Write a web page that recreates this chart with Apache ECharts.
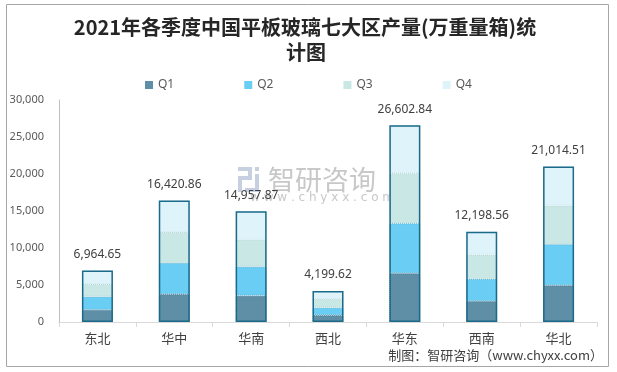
<!DOCTYPE html>
<html>
<head>
<meta charset="utf-8">
<script src="https://cdn.jsdelivr.net/npm/echarts@6/dist/echarts.min.js"></script>
<style>
html,body{margin:0;padding:0;background:#fff;}
#main{width:617px;height:372px;}
</style>
</head>
<body>
<div id="main"></div>
<script>
var categories = ['东北', '华中', '华南', '西北', '华东', '西南', '华北'];
var q1 = [1647, 3769, 3557, 925, 6587, 2824, 4963];
var q2 = [1781, 4213, 3922, 1009, 6762, 3002, 5545];
var q3 = [1700, 4172, 3652, 1202, 6762, 3275, 5233];
var q4 = [1836.65, 4266.86, 3826.87, 1063.62, 6491.84, 3097.56, 5273.51];
var totals = [6964.65, 16420.86, 14957.87, 4199.62, 26602.84, 12198.56, 21014.51];
var yTicks = [0, 5000, 10000, 15000, 20000, 25000, 30000];

var FONT = '"Noto Sans", "Noto Sans CJK SC", sans-serif';
function fmt(v, d) {
  var s = v.toFixed(d);
  var parts = s.split('.');
  parts[0] = parts[0].replace(/\B(?=(\d{3})+(?!\d))/g, ',');
  return parts.join('.');
}

var colors = ['#5E8FA6', '#6ACDF4', '#C9E7E5', '#DFF3FA'];
var seg = function (name, data, color, border) {
  return {
    name: name, type: 'bar', stack: 'total', data: data, barWidth: 31,
    itemStyle: { color: color, borderColor: border, borderWidth: 1, borderType: 'dotted' },
    emphasis: { disabled: true }, z: 2
  };
};

var chart = echarts.init(document.getElementById('main'), null, { renderer: 'canvas' });
chart.setOption({
  animation: false,
  backgroundColor: '#ffffff',
  textStyle: { fontFamily: FONT },
  legend: {
    data: ['Q1', 'Q2', 'Q3', 'Q4'],
    left: 140, top: 74,
    itemWidth: 8, itemHeight: 8, itemGap: 70,
    icon: 'rect',
    itemStyle: { borderWidth: 0 },
    textStyle: { color: '#595959', fontSize: 12, fontFamily: FONT }
  },
  grid: { left: 59, right: 20, top: 100, bottom: 50, containLabel: false },
  xAxis: {
    type: 'category', data: categories,
    axisLine: { lineStyle: { color: '#D9D9D9', width: 1 } },
    axisTick: { show: true, length: 5, lineStyle: { color: '#D9D9D9' } },
    axisLabel: { color: '#404040', fontSize: 13, margin: 11, fontFamily: FONT }
  },
  yAxis: {
    type: 'value', min: yTicks[0], max: yTicks[yTicks.length - 1], interval: 5000,
    axisLine: { show: true, lineStyle: { color: '#BFBFBF' } },
    axisTick: { show: false },
    splitLine: { show: false },
    axisLabel: { color: '#595959', fontSize: 11, margin: 15, fontFamily: FONT,
      formatter: function (v) { return fmt(v, 0); } }
  },
  series: [
    seg('Q1', q1, colors[0], '#4A7890'),
    seg('Q2', q2, colors[1], '#5AB0D0'),
    seg('Q3', q3, colors[2], '#B0D6D4'),
    seg('Q4', q4, colors[3], '#C5E3EE'),
    {
      name: 'total', type: 'bar', data: totals, barWidth: 31, barGap: '-100%',
      itemStyle: { color: 'rgba(0,0,0,0)', borderColor: '#1B6A8A', borderWidth: 1.5 },
      label: { show: true, position: 'top', distance: 10, color: '#404040', fontSize: 12,
        fontFamily: FONT, formatter: function (p) { return fmt(p.value, 2); } },
      emphasis: { disabled: true }, z: 3
    }
  ],
  graphic: [
    { type: 'rect', shape: { x: 6.5, y: 4.5, width: 602, height: 362 },
      style: { fill: 'none', stroke: '#A6A6A6', lineWidth: 1 }, z: 0, silent: true },
    { type: 'text', x: 305, y: 27, z: 10,
      style: { text: '2021年各季度中国平板玻璃七大区产量(万重量箱)统', fill: '#262626',
        font: 'bold 20px "Noto Sans CJK SC", serif', textAlign: 'center', textVerticalAlign: 'middle' } },
    { type: 'text', x: 306, y: 52, z: 10,
      style: { text: '计图', fill: '#262626',
        font: 'bold 20px "Noto Sans CJK SC", serif', textAlign: 'center', textVerticalAlign: 'middle' } },
    { type: 'group', x: 238, y: 167, z: 1, silent: true, children: [
      { type: 'rect', shape: { x: 0, y: 0, width: 14, height: 4 }, style: { fill: '#C7D0E0' } },
      { type: 'rect', shape: { x: 10, y: 0, width: 4, height: 13 }, style: { fill: '#C7D0E0' } },
      { type: 'rect', shape: { x: 0, y: 9, width: 14, height: 4 }, style: { fill: '#C7D0E0' } },
      { type: 'rect', shape: { x: 0, y: 9, width: 4, height: 16 }, style: { fill: '#C7D0E0' } },
      { type: 'rect', shape: { x: 17, y: 0, width: 4, height: 4 }, style: { fill: '#C7D0E0' } },
      { type: 'rect', shape: { x: 17, y: 7, width: 4, height: 18 }, style: { fill: '#C7D0E0' } },
      { type: 'rect', shape: { x: 7, y: 21, width: 14, height: 4 }, style: { fill: '#C7D0E0' } }
    ] },
    { type: 'text', x: 268, y: 180, z: 1, silent: true,
      style: { text: '智研咨询', fill: '#C8C8C8', font: '27px "Noto Sans CJK SC", sans-serif',
        textVerticalAlign: 'middle' } },
    { type: 'text', x: 250, y: 198, z: 1, silent: true,
      style: { text: 'w w w . c h y x x . c o m', fill: '#C8C8C8', font: '12px "DejaVu Sans", sans-serif',
        textVerticalAlign: 'middle' } },
    { type: 'text', x: 603, y: 355, z: 10,
      style: { text: '制图：智研咨询（www.chyxx.com）', fill: '#404040',
        font: '13px "Noto Sans CJK SC", sans-serif', textAlign: 'right', textVerticalAlign: 'middle' } }
  ]
});
</script>
</body>
</html>
